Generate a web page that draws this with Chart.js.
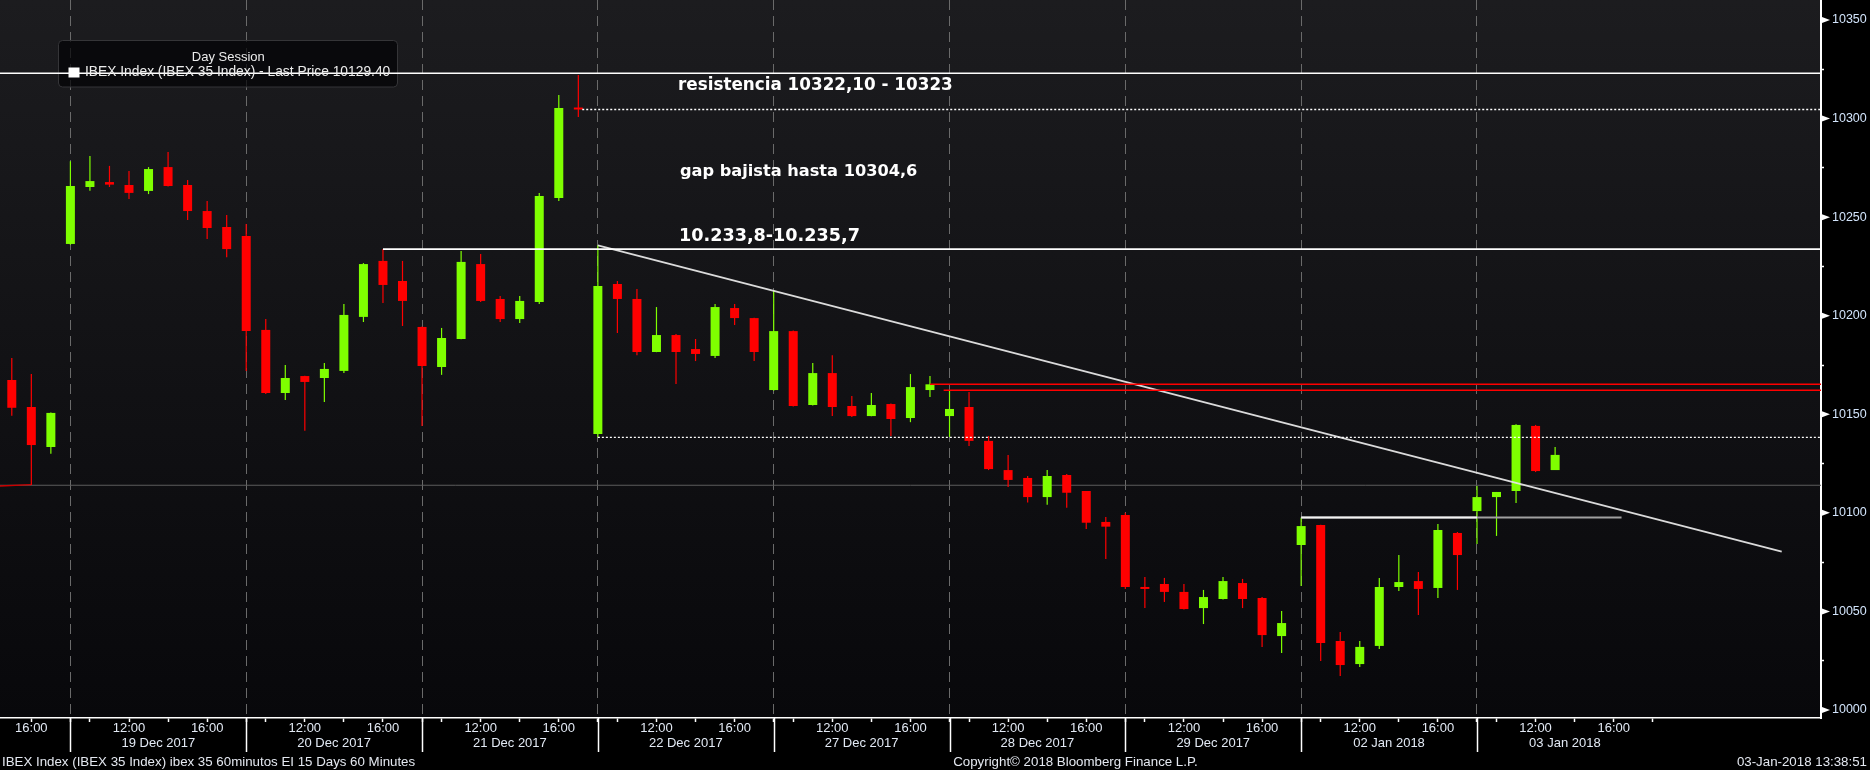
<!DOCTYPE html>
<html>
<head>
<meta charset="utf-8">
<script src="https://cdn.jsdelivr.net/npm/chart.js@4.4.0/dist/chart.umd.min.js"></script>
<style>
html,body{margin:0;padding:0;background:#000;overflow:hidden}
#wrap{width:1870px;height:770px;position:relative}
</style>
</head>
<body>
<div id="wrap"><canvas id="c" width="1870" height="770"></canvas></div>
<script>
// ---------- DATA (IBEX 35, 60-minute bars, 18 Dec 2017 15:00 -> 03 Jan 2018 13:00) ----------
const opens = [
  10167.4, 10153.7, 10133.4,
  10236.4, 10265.3, 10267.8, 10266.3, 10263.3, 10275.4, 10266.3, 10253.1, 10245.0,
  10240.4, 10192.8, 10160.8, 10169.4, 10168.4, 10172.0, 10199.4, 10227.8, 10217.6,
  10194.3, 10174.0, 10188.2, 10226.2, 10208.5, 10198.3, 10207.0, 10259.7, 10305.1,
  10140.0, 10216.1, 10208.5, 10181.6, 10190.2, 10183.1, 10179.6, 10203.9, 10198.8,
  10162.3, 10192.2, 10154.7, 10170.9, 10154.2, 10149.1, 10155.2, 10148.1, 10162.3,
  10149.1, 10153.7, 10136.5, 10121.7, 10117.7, 10108.0, 10119.2, 10111.1, 10095.4,
  10098.9, 10062.4, 10063.9, 10059.9, 10051.7, 10056.3, 10064.4, 10056.8, 10037.5,
  10083.7, 10093.8, 10035.0, 10023.3, 10032.5, 10062.4, 10065.4, 10061.9, 10089.8,
  10100.9, 10108.0, 10111.1, 10144.1, 10121.7
];
const highs = [
  10178.6, 10170.4, 10150.9,
  10278.3, 10281.0, 10276.0, 10273.4, 10275.4, 10283.0, 10268.8, 10258.2, 10251.1,
  10246.5, 10198.3, 10175.0, 10169.6, 10176.0, 10206.0, 10226.7, 10233.8, 10227.8,
  10194.5, 10193.8, 10232.8, 10231.3, 10210.0, 10210.0, 10262.3, 10312.0, 10322.1,
  10235.7, 10217.6, 10213.6, 10204.4, 10190.7, 10188.2, 10206.0, 10206.0, 10199.0,
  10213.0, 10192.5, 10176.0, 10180.0, 10159.3, 10160.8, 10155.5, 10170.4, 10169.4,
  10162.3, 10161.3, 10139.0, 10129.4, 10118.7, 10121.7, 10119.7, 10111.1, 10097.9,
  10100.0, 10067.5, 10067.0, 10063.9, 10060.9, 10067.5, 10066.5, 10057.3, 10050.2,
  10097.6, 10094.0, 10039.6, 10035.0, 10067.0, 10078.6, 10070.0, 10094.3, 10090.3,
  10113.6, 10110.6, 10145.0, 10144.6, 10133.4
];
const lows = [
  10149.3, 10114.1, 10130.0,
  10236.0, 10263.4, 10265.3, 10259.2, 10261.7, 10265.5, 10248.6, 10238.9, 10229.6,
  10172.0, 10160.3, 10157.3, 10141.7, 10156.2, 10171.0, 10196.8, 10206.5, 10194.8,
  10144.1, 10170.0, 10188.0, 10207.0, 10196.8, 10196.3, 10206.0, 10258.2, 10300.8,
  10138.3, 10191.2, 10180.0, 10181.5, 10165.4, 10177.0, 10178.6, 10195.3, 10177.0,
  10162.0, 10154.0, 10154.5, 10149.1, 10148.6, 10149.0, 10139.0, 10146.0, 10158.8,
  10138.5, 10133.9, 10121.7, 10113.1, 10105.2, 10104.1, 10102.6, 10091.8, 10076.6,
  10061.4, 10051.7, 10054.8, 10051.0, 10043.6, 10056.0, 10051.7, 10032.0, 10028.9,
  10062.9, 10024.9, 10017.2, 10021.8, 10031.0, 10060.4, 10048.2, 10056.8, 10060.9,
  10084.2, 10088.3, 10105.0, 10120.7, 10121.7
];
const closes = [
  10153.3, 10134.4, 10150.7,
  10265.8, 10268.3, 10266.5, 10262.3, 10274.4, 10265.8, 10253.1, 10244.5, 10233.8,
  10192.2, 10160.8, 10168.4, 10166.4, 10173.0, 10200.4, 10226.2, 10215.6, 10207.5,
  10174.5, 10188.7, 10227.3, 10207.5, 10198.3, 10207.5, 10260.7, 10305.4, 10304.6,
  10215.1, 10208.5, 10181.6, 10190.2, 10181.6, 10180.6, 10204.4, 10198.8, 10181.6,
  10192.2, 10154.2, 10170.9, 10153.7, 10149.1, 10154.7, 10147.6, 10163.8, 10165.2,
  10152.7, 10136.5, 10122.2, 10116.7, 10108.0, 10118.7, 10110.2, 10095.0, 10093.0,
  10062.4, 10061.4, 10059.9, 10051.2, 10057.3, 10065.4, 10056.3, 10038.0, 10044.1,
  10093.3, 10034.0, 10022.8, 10032.0, 10062.4, 10064.9, 10061.4, 10091.3, 10078.6,
  10108.0, 10110.6, 10144.6, 10121.2, 10129.4
];

// sessions (bar slot of the 09:00 bar) and their date labels
const sessionStartSlots = [-6, 3, 12, 21, 30, 39, 48, 57, 66, 75];
const sessionDates = ['18 Dec 2017','19 Dec 2017','20 Dec 2017','21 Dec 2017','22 Dec 2017',
                      '27 Dec 2017','28 Dec 2017','29 Dec 2017','02 Jan 2018','03 Jan 2018'];
const barsPerSession = 9;
const hourTickOffsets = [1, 3, 5, 7];
const hourTickLabels  = ['', '12:00', '', '16:00'];
const dateLabelOffset = 4.5;

// y axis ticks
const yTickValues = [10000,10025,10050,10075,10100,10125,10150,10175,10200,10225,10250,10275,10300,10325,10350];
const yLabelStep = 50;

// visible ranges
const xMin = -0.6035, xMax = 92.61;
const yMin = 9995.94, yMax = 10360.15;

// drawn study lines (value levels / slots)
const resistanceLevel = 10323.0;
const gapLevel = 10304.6,  gapStartSlot = 29.2;
const supportLevel = 10233.8, supportStartSlot = 19;
const redLevels = [10165.2, 10162.2], redStartSlots = [47, 47.7];
const dottedSupportLevel = 10138.3, dottedSupportStart = 30;
const refLevel = 10114.0;
const redStub = [[xMin, 10113.6], [1, 10114.3]];
const jan2HighLevel = 10097.6, jan2LineSlots = [66, 82.4], jan2BrightEnd = 75;
const trendPoints = [[30, 10235.7], [90.6, 10080.3]];

// texts
const annotations = ['resistencia 10322,10 - 10323', 'gap bajista hasta 10304,6', '10.233,8-10.235,7'];
const legendTitle = 'Day Session';
const legendLabel = 'IBEX Index (IBEX 35 Index) - Last Price ' + closes[closes.length-1].toFixed(2);
const footerLeft = 'IBEX Index (IBEX 35 Index) ibex 35 60minutos EI 15 Days 60 Minutes';
const footerMid = 'Copyright\u00A9 2018 Bloomberg Finance L.P.';
const footerRight = '03-Jan-2018 13:38:51';

// ---------- BUILD ----------
const GREEN = '#7fff00', RED = '#ff0000';
const colors = closes.map((c, i) => c >= opens[i] ? GREEN : RED);
const bodies = closes.map((c, i) => ({x: i, y: [opens[i], c]}));
const wicks  = closes.map((c, i) => ({x: i, y: [lows[i], highs[i]]}));

const lastSlot = closes.length - 1;
const separatorSet = new Set();
const dateSet = new Set();
const xLabelMap = new Map();
let xTicks = [];
sessionStartSlots.forEach((s, k) => {
  if (s <= lastSlot) { separatorSet.add(s); xTicks.push(s); }
  hourTickOffsets.forEach((o, j) => { xTicks.push(s + o); xLabelMap.set(s + o, hourTickLabels[j]); });
  const d = s + dateLabelOffset;
  if (s >= xMin) { xTicks.push(d); dateSet.add(d); xLabelMap.set(d, ['', sessionDates[k]]); }
});
xTicks.push(sessionStartSlots[sessionStartSlots.length-1] + barsPerSession);
xTicks = xTicks.filter(v => v >= xMin && v <= xMax).sort((a, b) => a - b);

function seg(x0, y0, x1, y1) { return [{x: x0, y: y0}, {x: x1, y: y1}]; }
function lineDs(data, color, width, dash, order) {
  return {type: 'line', data, borderColor: color, borderWidth: width, borderDash: dash || [],
          pointRadius: 0, fill: false, tension: 0, order, clip: false};
}

const datasets = [
  lineDs(seg(xMin, resistanceLevel, xMax, resistanceLevel), '#ffffff', 1.6, null, 0),
  lineDs(seg(gapStartSlot, gapLevel, xMax, gapLevel), '#ffffff', 1.4, [2, 2], 0),
  lineDs(seg(supportStartSlot, supportLevel, xMax, supportLevel), '#ffffff', 1.6, null, 0),
  lineDs(seg(redStartSlots[0], redLevels[0], xMax, redLevels[0]), '#ff0000', 1.6, null, 0),
  lineDs(seg(redStartSlots[1], redLevels[1], xMax, redLevels[1]), '#ff0000', 1.6, null, 0),
  lineDs(seg(dottedSupportStart, dottedSupportLevel, xMax, dottedSupportLevel), '#ffffff', 1.4, [2, 2], 0),
  lineDs(seg(trendPoints[0][0], trendPoints[0][1], trendPoints[1][0], trendPoints[1][1]), 'rgba(230,230,230,0.95)', 1.8, null, 0),
  lineDs(seg(jan2LineSlots[0], jan2HighLevel, jan2BrightEnd, jan2HighLevel), '#f2f2f2', 2, null, 0),
  lineDs(seg(jan2LineSlots[0], jan2HighLevel, jan2LineSlots[1], jan2HighLevel), '#a0a0a0', 2, null, 1),
  lineDs(seg(redStub[0][0], redStub[0][1], redStub[1][0], redStub[1][1]), '#cc0000', 1.4, null, 1),
  {type: 'bar', data: bodies, backgroundColor: colors, borderWidth: 0, barThickness: 9,
   minBarLength: 2, grouped: false, inflateAmount: 0, order: 2},
  {type: 'bar', data: wicks, backgroundColor: colors, borderWidth: 0, barThickness: 1.2,
   grouped: false, inflateAmount: 0, order: 3},
  lineDs(seg(xMin, refLevel, xMax, refLevel), '#5c5c5c', 1, null, 4)
];

const FONT = '"Liberation Sans", Arial, sans-serif';

const decor = {
  id: 'decor',
  beforeDraw(chart) {
    const {ctx, chartArea: a, width, height} = chart;
    ctx.save();
    ctx.fillStyle = '#000';
    ctx.fillRect(0, 0, width, height);
    const g = ctx.createLinearGradient(0, a.top, 0, a.bottom);
    g.addColorStop(0, '#1c1c1f');
    g.addColorStop(1, '#08080b');
    ctx.fillStyle = g;
    ctx.fillRect(a.left, a.top, a.right - a.left, a.bottom - a.top);
    ctx.restore();
  },
  beforeDatasetsDraw(chart) {
    const {ctx} = chart;
    ctx.save();
    ctx.beginPath();
    ctx.roundRect(58.5, 40.5, 339, 46.5, 4);
    ctx.fillStyle = 'rgba(3,3,5,0.72)';
    ctx.fill();
    ctx.strokeStyle = '#353538';
    ctx.lineWidth = 1;
    ctx.stroke();
    ctx.restore();
  },
  afterDraw(chart) {
    const {ctx, chartArea: a, scales: {x, y}} = chart;
    ctx.save();
    // session separators extending through the time axis
    ctx.strokeStyle = '#ffffff';
    ctx.lineWidth = 1.5;
    separatorSet.forEach(s => {
      if (s < xMin || s > xMax) return;
      const px = Math.round(x.getPixelForValue(s)) + 0.5;
      ctx.beginPath(); ctx.moveTo(px, a.bottom); ctx.lineTo(px, a.bottom + 34); ctx.stroke();
    });
    // pointer triangles on labelled price ticks
    ctx.fillStyle = '#ffffff';
    yTickValues.filter(v => v % yLabelStep === 0).forEach(v => {
      const py = y.getPixelForValue(v);
      ctx.beginPath();
      ctx.moveTo(a.right + 1, py - 3);
      ctx.lineTo(a.right + 9, py);
      ctx.lineTo(a.right + 1, py + 3);
      ctx.closePath(); ctx.fill();
    });
    // annotation texts
    ctx.fillStyle = '#ffffff';
    ctx.textBaseline = 'middle';
    ctx.textAlign = 'left';
    ctx.font = 'bold 16.8px "DejaVu Sans", sans-serif';
    ctx.fillText(annotations[0], 678, 86);
    ctx.font = 'bold 16.2px "DejaVu Sans", sans-serif';
    ctx.fillText(annotations[1], 680, 172);
    ctx.font = 'bold 17.6px "DejaVu Sans", sans-serif';
    ctx.fillText(annotations[2], 679, 236);
    // legend texts
    ctx.font = '13px ' + FONT;
    ctx.fillStyle = '#ececec';
    ctx.textAlign = 'center';
    ctx.fillText(legendTitle, 228.3, 57.5);
    ctx.textAlign = 'left';
    ctx.fillStyle = '#ffffff';
    ctx.fillRect(68.5, 67.5, 11, 10);
    ctx.fillStyle = '#ececec';
    ctx.font = '13.8px ' + FONT;
    ctx.fillText(legendLabel, 85, 72.5);
    // footer
    ctx.fillStyle = '#e4e8f0';
    ctx.font = '13.3px ' + FONT;
    ctx.textAlign = 'left';
    ctx.fillText(footerLeft, 2, 762);
    ctx.textAlign = 'center';
    ctx.fillText(footerMid, 1075.5, 762);
    ctx.textAlign = 'right';
    ctx.fillText(footerRight, 1867, 762);
    ctx.restore();
  }
};

new Chart(document.getElementById('c'), {
  type: 'bar',
  data: {datasets},
  plugins: [decor],
  options: {
    responsive: false,
    devicePixelRatio: 1,
    animation: false,
    events: [],
    layout: {padding: 0},
    plugins: {legend: {display: false}, tooltip: {enabled: false}},
    scales: {
      x: {
        type: 'linear', min: xMin, max: xMax, offset: false,
        afterBuildTicks: s => { s.ticks = xTicks.map(v => ({value: v})); },
        afterFit: s => { s.height = 52; s.paddingLeft = 0; s.paddingRight = 0; },
        ticks: {
          autoSkip: false, maxRotation: 0, minRotation: 0, padding: -1,
          color: '#e2e9f4',
          font: {family: FONT, size: 13, lineHeight: 1.15},
          callback: v => { const l = xLabelMap.get(v); return l === undefined ? '' : l; }
        },
        grid: {
          offset: false, drawOnChartArea: true, lineWidth: 1,
          color: c => (c.tick && separatorSet.has(c.tick.value)) ? '#6a6a6a' : 'rgba(0,0,0,0)',
          tickLength: 4, tickWidth: 1.5,
          tickColor: c => (c.tick && dateSet.has(c.tick.value)) ? 'rgba(0,0,0,0)' : '#ffffff'
        },
        border: {display: true, color: '#ffffff', width: 1.5, dash: [10, 6]}
      },
      y: {
        position: 'right', min: yMin, max: yMax, beginAtZero: false,
        afterBuildTicks: s => { s.ticks = yTickValues.map(v => ({value: v})); },
        afterFit: s => { s.width = 49; s.paddingTop = 0; s.paddingBottom = 0; },
        ticks: {
          autoSkip: false, padding: 8, color: '#d2e4fb',
          font: {family: FONT, size: 12.5},
          callback: v => (v % yLabelStep === 0 ? String(v) : '')
        },
        grid: {drawOnChartArea: false, tickLength: 3, tickWidth: 1.5, tickColor: '#ffffff'},
        border: {display: true, color: '#ffffff', width: 2}
      }
    }
  }
});
</script>
</body>
</html>
